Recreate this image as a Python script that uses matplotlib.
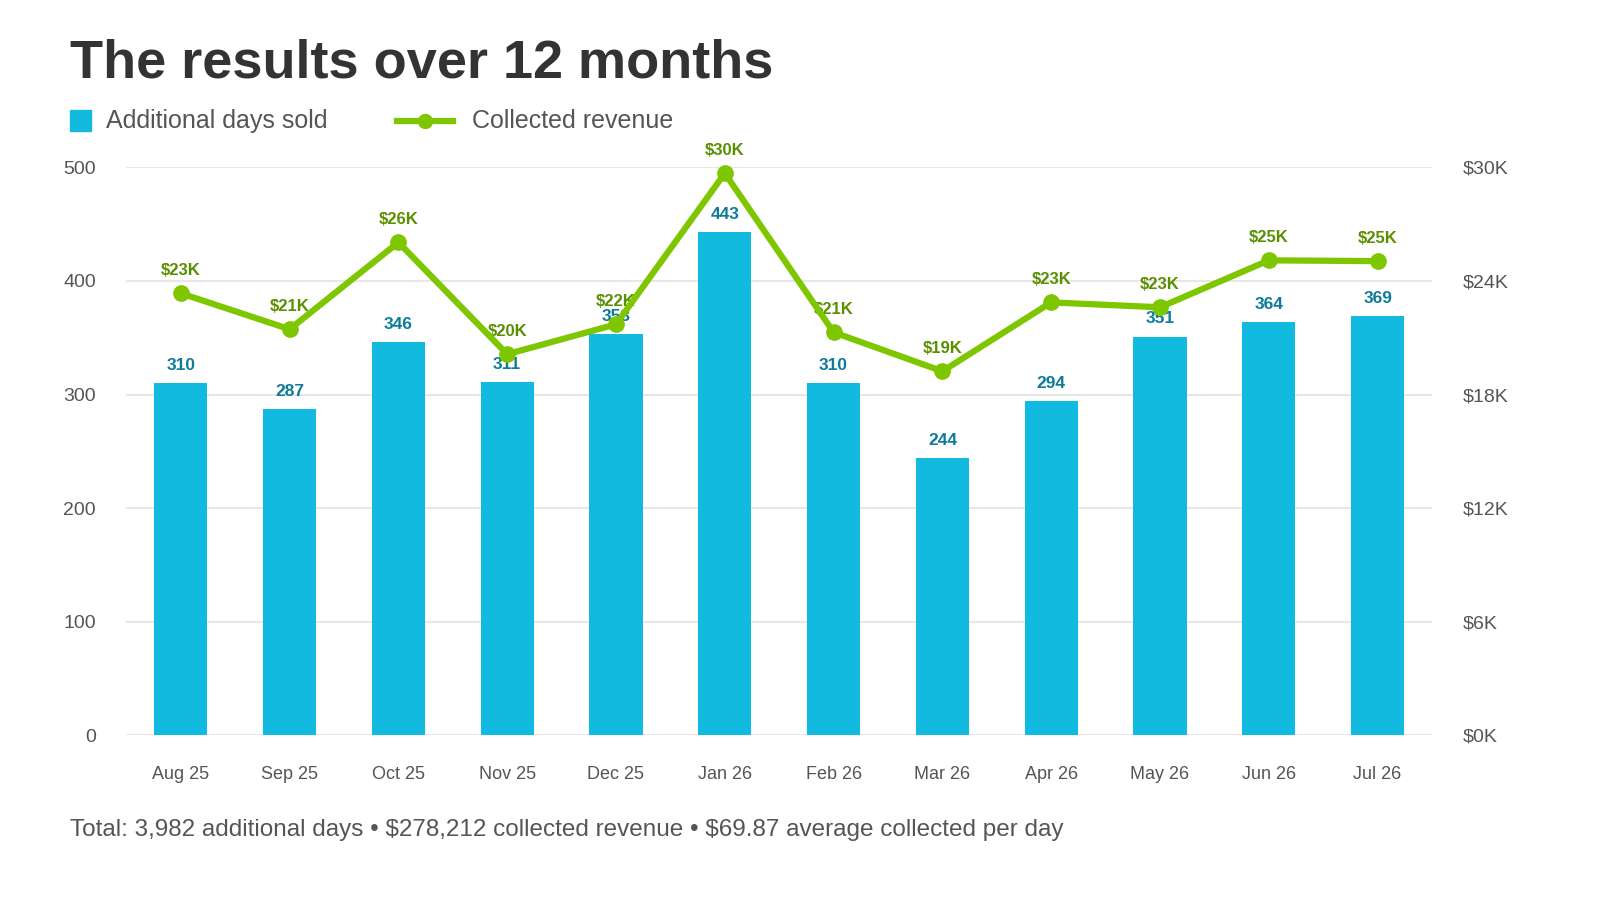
import matplotlib.pyplot as plt
from matplotlib.lines import Line2D
from matplotlib.patches import Rectangle

months = ["Aug 25", "Sep 25", "Oct 25", "Nov 25", "Dec 25", "Jan 26",
          "Feb 26", "Mar 26", "Apr 26", "May 26", "Jun 26", "Jul 26"]
days_sold = [310, 287, 346, 311, 353, 443, 310, 244, 294, 351, 364, 369]
revenue_k = [23.35, 21.45, 26.04, 20.13, 21.71, 29.69, 21.29, 19.23, 22.87, 22.61, 25.09, 25.05]

bar_color = "#12BADF"
line_color = "#7DC600"
grey = "#555555"

plt.rcParams['font.family'] = ['Liberation Sans', 'DejaVu Sans']

fig = plt.figure(figsize=(16, 9), dpi=100)
ax = fig.add_axes([0.079, 0.183, 0.816, 0.631])
ax2 = ax.twinx()

x = range(len(months))
ax.bar(x, days_sold, width=0.49, color=bar_color, zorder=2)
for i, v in zip(x, days_sold):
    ax.text(i, v + 9, str(v), ha="center", va="bottom", fontsize=12.5,
            fontweight="bold", color="#0E7C99", zorder=3)

ax2.plot(x, revenue_k, color=line_color, lw=4.5, marker="o", ms=11, zorder=4, clip_on=False)
for i, v in zip(x, revenue_k):
    ax2.text(i, v + 0.8, f"\\${round(v):.0f}K", ha="center", va="bottom", fontsize=12,
             fontweight="bold", color="#5A8F00", clip_on=False)

ax.set_ylim(0, 500)
ax2.set_ylim(0, 30)
ax.set_xlim(-0.5, 11.5)
ax.set_yticks(range(0, 501, 100))
ax2.set_yticks(range(0, 31, 6))
ax2.set_yticklabels([f"${t}K" for t in range(0, 31, 6)])
ax.set_xticks(list(x))
ax.set_xticklabels(months)
ax.grid(axis="y", color="#E3E3E3", lw=1.2, zorder=0)
for a in (ax, ax2):
    for s in a.spines.values():
        s.set_visible(False)
    a.tick_params(length=0, labelsize=14, colors=grey)
ax.tick_params(axis="x", pad=22, labelsize=13)
ax.tick_params(axis="y", pad=22)
ax2.tick_params(axis="y", pad=22)
ax2.set_zorder(ax.get_zorder() + 1)
ax2.patch.set_visible(False)

fig.text(0.044, 0.93, "The results over 12 months", fontsize=39, fontweight="bold",
         color="#333333", va="center")

fig.patches.append(Rectangle((0.044, 0.855), 0.013, 0.023, transform=fig.transFigure,
                             color=bar_color))
fig.text(0.066, 0.866, "Additional days sold", fontsize=18, color=grey, va="center")
fig.lines.append(Line2D([0.248, 0.283], [0.866, 0.866], transform=fig.transFigure,
                        color=line_color, lw=4.5))
fig.lines.append(Line2D([0.2655], [0.866], transform=fig.transFigure,
                        color=line_color, marker="o", ms=10))
fig.text(0.295, 0.866, "Collected revenue", fontsize=18, color=grey, va="center")

fig.text(0.044, 0.078, "Total: 3,982 additional days \u2022 \\$278,212 collected revenue \u2022 \\$69.87 average collected per day",
         fontsize=17.5, color=grey, va="center")

fig.savefig("out.png")
